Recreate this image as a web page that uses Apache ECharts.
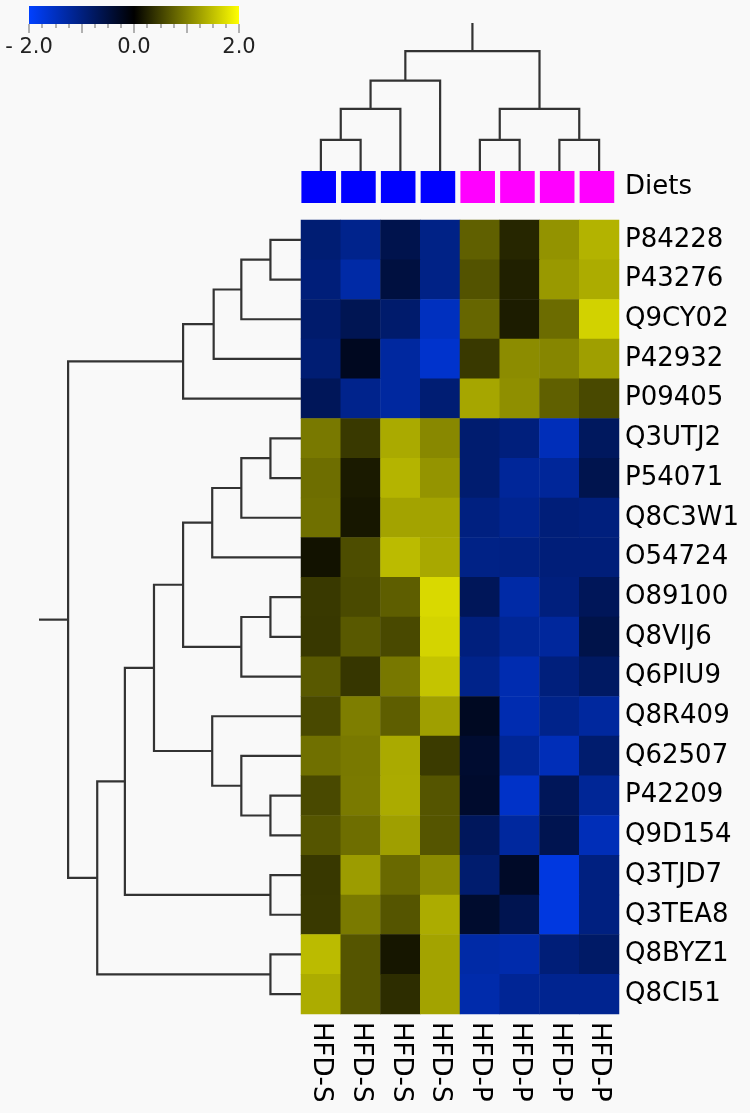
<!DOCTYPE html>
<html>
<head>
<meta charset="utf-8">
<script src="https://cdn.jsdelivr.net/npm/echarts@6/dist/echarts.min.js"></script>
<style>
html,body{margin:0;padding:0;background:#f9f9f9;}
#chart{width:750px;height:1113px;}
</style>
</head>
<body>
<div id="chart"></div>
<script>
// ---------- data ----------
const rowLabels = ['P84228','P43276','Q9CY02','P42932','P09405','Q3UTJ2','P54071','Q8C3W1','O54724','O89100',
                   'Q8VIJ6','Q6PIU9','Q8R409','Q62507','P42209','Q9D154','Q3TJD7','Q3TEA8','Q8BYZ1','Q8CI51'];
const colLabels = ['HFD-S','HFD-S','HFD-S','HFD-S','HFD-P','HFD-P','HFD-P','HFD-P'];
const diets = ['S','S','S','S','P','P','P','P'];
const dietColors = {S:'#0000ff', P:'#ff00ff'};
const values = [
  [-0.90,-1.10,-0.60,-1.05, 0.75, 0.30, 1.15, 1.40],
  [-0.95,-1.30,-0.50,-1.05, 0.65, 0.25, 1.20, 1.35],
  [-0.85,-0.65,-0.85,-1.50, 0.80, 0.22, 0.85, 1.65],
  [-0.90,-0.25,-1.25,-1.60, 0.45, 1.10, 1.05, 1.25],
  [-0.70,-1.10,-1.25,-0.90, 1.30, 1.12, 0.75, 0.57],
  [ 0.95, 0.45, 1.33, 1.07,-0.87,-0.97,-1.45,-0.74],
  [ 0.86, 0.20, 1.41, 1.16,-0.87,-1.20,-1.20,-0.61],
  [ 0.88, 0.18, 1.28, 1.28,-1.00,-1.13,-0.95,-0.98],
  [ 0.14, 0.60, 1.47, 1.32,-1.05,-1.03,-0.95,-0.95],
  [ 0.45, 0.58, 0.74, 1.70,-0.70,-1.30,-0.98,-0.70],
  [ 0.44, 0.70, 0.57, 1.66,-0.98,-1.18,-1.22,-0.58],
  [ 0.70, 0.42, 0.94, 1.54,-1.08,-1.38,-0.97,-0.77],
  [ 0.57, 0.99, 0.74, 1.25,-0.27,-1.38,-1.08,-1.24],
  [ 0.88, 0.95, 1.33, 0.46,-0.38,-1.18,-1.44,-0.86],
  [ 0.57, 0.96, 1.34, 0.67,-0.35,-1.57,-0.70,-1.18],
  [ 0.67, 0.86, 1.25, 0.67,-0.72,-1.24,-0.63,-1.44],
  [ 0.44, 1.22, 0.82, 1.08,-0.86,-0.31,-1.76,-1.00],
  [ 0.45, 0.96, 0.67, 1.35,-0.36,-0.63,-1.76,-1.00],
  [ 1.47, 0.67, 0.17, 1.28,-1.30,-1.35,-0.94,-0.80],
  [ 1.35, 0.67, 0.35, 1.28,-1.34,-1.17,-1.13,-1.13]
];
// colour scale
const scaleMin = -2, scaleMax = 2;
const scaleColors = ['#0040ff', '#000000', '#ffff00'];
const scaleTicks = [-2, 0, 2];
// row dendrogram merges: [childA, childB, height]; leaves 0..19, new nodes from 20
const rowMerges = [
  [0, 1, 1.05],    // 20
  [20, 2, 2.05],   // 21
  [21, 3, 3.0],    // 22
  [22, 4, 4.05],   // 23
  [5, 6, 1.05],    // 24
  [24, 7, 2.05],   // 25
  [25, 8, 3.05],   // 26
  [9, 10, 1.05],   // 27
  [27, 11, 2.05],  // 28
  [26, 28, 4.05],  // 29
  [14, 15, 1.05],  // 30
  [13, 30, 2.05],  // 31
  [12, 31, 3.05],  // 32
  [29, 32, 5.05],  // 33
  [16, 17, 1.05],  // 34
  [33, 34, 6.05],  // 35
  [18, 19, 1.05],  // 36
  [35, 36, 7.0],   // 37
  [23, 37, 8.0]    // 38
];
const rowRootTop = 9;
// column dendrogram merges; leaves 0..7, new nodes from 8
const colMerges = [
  [0, 1, 1.05],  // 8
  [8, 2, 2.1],   // 9
  [9, 3, 3.05],  // 10
  [4, 5, 1.05],  // 11
  [6, 7, 1.05],  // 12
  [11, 12, 2.1], // 13
  [10, 13, 4.05] // 14
];
const colRootTop = 5;

// ---------- build ----------
function dendroLinks(nLeaves, merges, rootTop, horizontal) {
  const pos = [], hgt = [];
  for (let i = 0; i < nLeaves; i++) { pos.push(i + 0.5); hgt.push(0); }
  const links = [];
  const pt = (h, p) => horizontal ? [h, p] : [p, h];
  merges.forEach(m => {
    const [a, b, h] = m;
    links.push({coords: [pt(hgt[a], pos[a]), pt(h, pos[a]), pt(h, pos[b]), pt(hgt[b], pos[b])]});
    pos.push((pos[a] + pos[b]) / 2);
    hgt.push(h);
  });
  const r = pos.length - 1;
  links.push({coords: [pt(hgt[r], pos[r]), pt(rootTop, pos[r])]});
  return links;
}

const heatData = [];
values.forEach((row, r) => row.forEach((v, c) => heatData.push([c, r, v])));

const font = 'DejaVu Sans';
const lineStyle = {color: '#333333', width: 2.2, opacity: 1, curveness: 0};

const chart = echarts.init(document.getElementById('chart'));
chart.setOption({
  backgroundColor: '#f9f9f9',
  animation: false,
  grid: [
    {left: 301, top: 220, width: 318, height: 794},
    {left: 39, top: 220, width: 262, height: 794},
    {left: 301, top: 23, width: 318, height: 148},
    {left: 301, top: 171, width: 318, height: 32},
    {left: 29, top: 6, width: 210, height: 18}
  ],
  xAxis: [
    {type: 'category', gridIndex: 0, data: colLabels, position: 'bottom',
     axisLine: {show: false}, axisTick: {show: false},
     axisLabel: {rotate: -90, fontSize: 26, color: '#000', fontFamily: font, margin: 8, interval: 0}},
    {type: 'value', gridIndex: 1, min: 0, max: rowRootTop, inverse: true, show: false},
    {type: 'value', gridIndex: 2, min: 0, max: 8, show: false},
    {type: 'value', gridIndex: 3, min: 0, max: 8, show: false},
    {type: 'value', gridIndex: 4, min: scaleMin, max: scaleMax, interval: 1, position: 'bottom',
     axisLine: {show: false}, splitLine: {show: false},
     axisTick: {show: true, length: 9, lineStyle: {color: '#999', width: 1.5}},
     minorTick: {show: true, splitNumber: 4, length: 4, lineStyle: {color: '#999', width: 1.5}},
     axisLabel: {fontSize: 21, color: '#222', fontFamily: font, margin: 13,
       formatter: v => scaleTicks.indexOf(v) < 0 ? '' : (v < 0 ? '- ' + Math.abs(v).toFixed(1) : v.toFixed(1))}}
  ],
  yAxis: [
    {type: 'category', gridIndex: 0, data: rowLabels, inverse: true, position: 'right',
     axisLine: {show: false}, axisTick: {show: false},
     axisLabel: {fontSize: 26, color: '#000', fontFamily: font, margin: 6, interval: 0}},
    {type: 'value', gridIndex: 1, min: 0, max: 20, inverse: true, show: false},
    {type: 'value', gridIndex: 2, min: 0, max: colRootTop, show: false},
    {type: 'category', gridIndex: 3, data: ['Diets'], position: 'right',
     axisLine: {show: false}, axisTick: {show: false},
     axisLabel: {fontSize: 26, color: '#000', fontFamily: font, margin: 6}},
    {type: 'value', gridIndex: 4, min: 0, max: 1, show: false}
  ],
  visualMap: {
    type: 'continuous', min: scaleMin, max: scaleMax, show: false, seriesIndex: 0,
    inRange: {color: scaleColors}
  },
  series: [
    {type: 'heatmap', xAxisIndex: 0, yAxisIndex: 0, data: heatData, itemStyle: {borderWidth: 0}},
    {type: 'lines', coordinateSystem: 'cartesian2d', xAxisIndex: 1, yAxisIndex: 1, polyline: true,
     silent: true, lineStyle: lineStyle, data: dendroLinks(20, rowMerges, rowRootTop, true)},
    {type: 'lines', coordinateSystem: 'cartesian2d', xAxisIndex: 2, yAxisIndex: 2, polyline: true,
     silent: true, lineStyle: lineStyle, data: dendroLinks(8, colMerges, colRootTop, false)},
    {type: 'custom', xAxisIndex: 3, yAxisIndex: 3, silent: true,
     data: diets.map((d, i) => [i, 0, d]),
     renderItem: (params, api) => {
       const i = api.value(0);
       const p0 = api.coord([i + 0.01, 0]);
       const p1 = api.coord([i + 0.88, 0]);
       const h = api.size([0, 1])[1];
       return {type: 'rect', shape: {x: p0[0], y: p0[1] - h / 2, width: p1[0] - p0[0], height: h},
               style: {fill: dietColors[diets[i]]}};
     }},
    {type: 'custom', xAxisIndex: 4, yAxisIndex: 4, silent: true,
     data: [[scaleMin, scaleMax]],
     renderItem: (params, api) => {
       const a = api.coord([api.value(0), 1]);
       const b = api.coord([api.value(1), 0]);
       return {type: 'rect', shape: {x: a[0], y: a[1], width: b[0] - a[0], height: b[1] - a[1]},
               style: {fill: new echarts.graphic.LinearGradient(0, 0, 1, 0,
                 scaleColors.map((c, k) => ({offset: k / (scaleColors.length - 1), color: c})))}};
     }}
  ]
});
</script>
</body>
</html>
